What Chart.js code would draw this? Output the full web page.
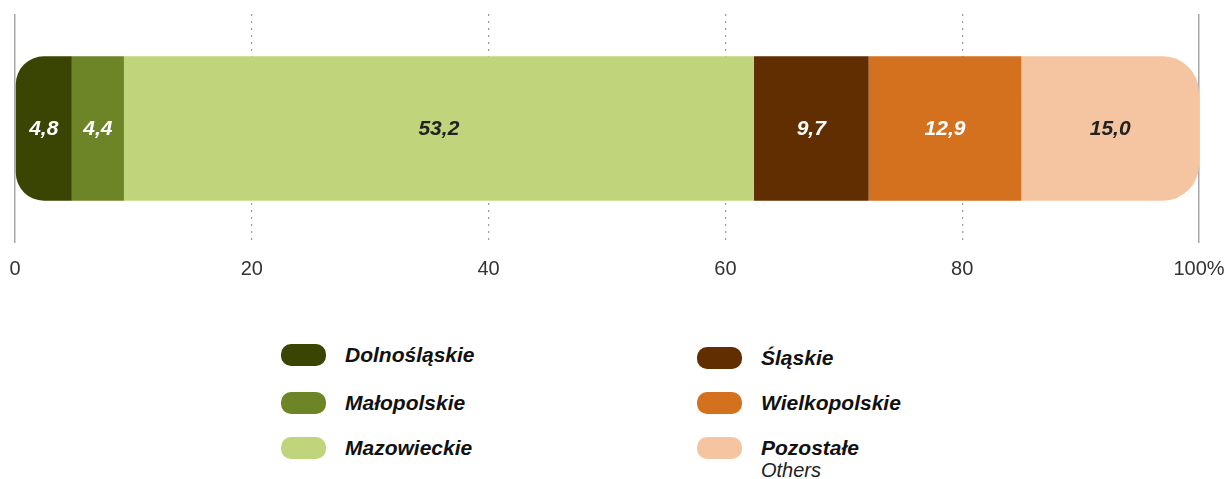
<!DOCTYPE html>
<html>
<head>
  <meta charset="UTF-8">
  <title>Regiony</title>
  <script src="https://cdn.jsdelivr.net/npm/chart.js"></script>
  <style>
    body { margin: 0; background: #fff; font-family: "Liberation Sans", Arial, sans-serif; }
    #wrap { position: relative; width: 1227px; height: 479px; }
    #box { position: absolute; left: 0; top: 0; width: 1227px; height: 295px; }
    .item { position: absolute; display: flex; align-items: flex-start; }
    .sw { width: 45px; height: 22px; border-radius: 10px; margin-right: 19px; flex: none; }
    .lab { font-weight: bold; font-style: italic; font-size: 21px; color: #111; line-height: 22px; }
    .sub { font-weight: normal; font-style: italic; font-size: 20px; color: #222; line-height: 22px; }
  </style>
</head>
<body>
  <div id="wrap">
    <div id="box"><canvas id="chart"></canvas></div>
    <div id="legend"></div>
  </div>

  <script>
    const regions = ["Dolnośląskie", "Małopolskie", "Mazowieckie", "Śląskie", "Wielkopolskie", "Pozostałe"];
    const subtitles = ["", "", "", "", "", "Others"];
    const shares = [4.8, 4.4, 53.2, 9.7, 12.9, 15.0];
    const colors = ["#3a4504", "#6d8427", "#bfd47b", "#612e01", "#d4711e", "#f5c4a0"];
    const labelColors = ["#fff", "#fff", "#222", "#fff", "#fff", "#222"];
    const xTicks = [0, 20, 40, 60, 80, 100];

    // legend, two columns of three
    const legendPos = [[281, 344], [281, 392], [281, 437], [697, 347], [697, 392], [697, 437]];
    const legend = document.getElementById("legend");
    regions.forEach((name, i) => {
      const d = document.createElement("div");
      d.className = "item";
      d.style.left = legendPos[i][0] + "px";
      d.style.top = legendPos[i][1] + "px";
      let txt = '<div class="lab">' + name + '</div>';
      if (subtitles[i]) txt += '<div class="sub">' + subtitles[i] + '</div>';
      d.innerHTML = '<div class="sw" style="background:' + colors[i] + '"></div><div>' + txt + '</div>';
      legend.appendChild(d);
    });

    const valueLabels = {
      id: "valueLabels",
      afterDatasetsDraw(chart) {
        const ctx = chart.ctx;
        ctx.save();
        ctx.font = "italic bold 21px 'Liberation Sans', Arial, sans-serif";
        ctx.textAlign = "center";
        ctx.textBaseline = "middle";
        chart.data.datasets.forEach((ds, i) => {
          const el = chart.getDatasetMeta(i).data[0];
          const p = el.getCenterPoint();
          ctx.fillStyle = labelColors[i];
          ctx.fillText(ds.data[0].toFixed(1).replace(".", ","), p.x, p.y + 1);
        });
        ctx.restore();
      }
    };

    const last = regions.length - 1;
    new Chart(document.getElementById("chart"), {
      type: "bar",
      data: {
        labels: [""],
        datasets: regions.map((name, i) => ({
          label: name,
          data: [shares[i]],
          backgroundColor: colors[i],
          borderWidth: 0,
          borderSkipped: false,
          borderRadius: i === 0 ? { topLeft: 36, bottomLeft: 36, topRight: 0, bottomRight: 0 }
            : i === last ? { topLeft: 0, bottomLeft: 0, topRight: 36, bottomRight: 36 } : 0,
          barPercentage: 0.9,
          categoryPercentage: 0.7
        }))
      },
      options: {
        indexAxis: "y",
        responsive: true,
        maintainAspectRatio: false,
        animation: false,
        layout: { padding: { left: 15, right: 28, top: 14, bottom: 0 } },
        plugins: { legend: { display: false }, tooltip: { enabled: false } },
        scales: {
          x: {
            stacked: true,
            min: 0,
            max: 100,
            afterBuildTicks: (axis) => { axis.ticks = xTicks.map(v => ({ value: v })); },
            // tick padding would otherwise widen the side margins too
            afterFit: (axis) => { axis.paddingLeft = 0; axis.paddingRight = 0; },
            grid: {
              drawTicks: false,
              color: (c) => (c.tick && (c.tick.value === 0 || c.tick.value === 100)) ? "#a8a8a8" : "#9a9a9a",
              lineWidth: (c) => (c.tick && (c.tick.value === 0 || c.tick.value === 100)) ? 1.5 : 1.2
            },
            border: {
              display: false,
              dash: (c) => (c.tick && (c.tick.value === 0 || c.tick.value === 100)) ? [] : [2, 5]
            },
            ticks: {
              padding: 14,
              color: "#333",
              font: { family: "'Liberation Sans', Arial, sans-serif", size: 20 },
              callback: (v) => v === 100 ? "100%" : v
            }
          },
          y: {
            stacked: true,
            display: false
          }
        }
      },
      plugins: [valueLabels]
    });
  </script>
</body>
</html>
